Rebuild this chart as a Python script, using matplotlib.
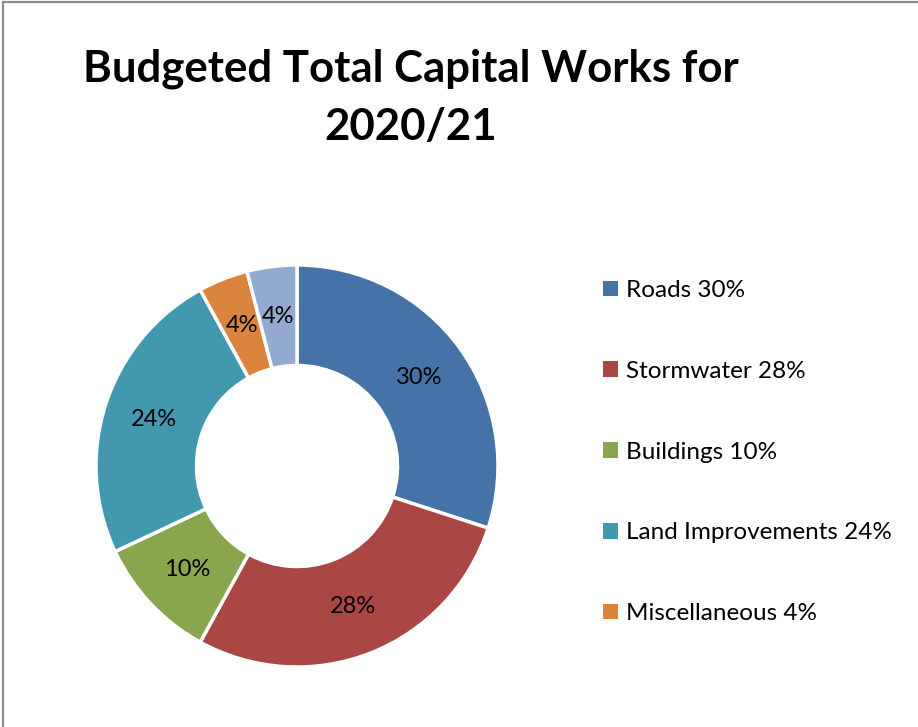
import matplotlib
matplotlib.use("Agg")
import matplotlib.pyplot as plt
from matplotlib.patches import Patch, Rectangle

plt.rcParams['font.family'] = ['Lato', 'DejaVu Sans']

# capital works budget split (percent)
categories = ["Roads", "Stormwater", "Buildings", "Land Improvements", "Miscellaneous", "Other"]
shares = [30, 28, 10, 24, 4, 4]
colors = ["#4572A7", "#AA4643", "#89A54E", "#4198AF", "#DB843D", "#93A9CF"]
n_legend = 5  # legend box only has room for the first five

W, H = 918, 727
fig = plt.figure(figsize=(W / 100, H / 100), dpi=100)

# chart area border
fig.add_artist(Rectangle((3 / W, -0.1), 1.2, 1.1 - 2 / H, transform=fig.transFigure,
                         fill=False, edgecolor="#8c8c8c", linewidth=1.6))

cx, cy, r = 297, 466, 201
ax = fig.add_axes([(cx - r) / W, (H - cy - r) / H, 2 * r / W, 2 * r / H])
wedges, texts, autotexts = ax.pie(
    shares, colors=colors, startangle=90, counterclock=False,
    autopct="%.0f%%", pctdistance=0.75,
    wedgeprops=dict(width=0.5, edgecolor="white", linewidth=2.5),
    textprops=dict(fontsize=17, color="black"))
ax.set_xlim(-1, 1)
ax.set_ylim(-1, 1)
ax.set_aspect("equal")

fig.text(411 / W, 1 - 98 / H, "Budgeted Total Capital Works for\n2020/21",
         ha="center", va="center", fontsize=31.5, fontweight="bold", linespacing=1.55)

handles = [Patch(facecolor=c, edgecolor="none") for c in colors[:n_legend]]
labels = [f"{n} {v}%" for n, v in zip(categories[:n_legend], shares[:n_legend])]
fig.legend(handles, labels, loc="upper left", bbox_to_anchor=(603 / W, 1 - 280 / H),
           frameon=False, fontsize=17.5, handlelength=0.62, handleheight=0.62,
           handletextpad=0.33, labelspacing=2.46, borderpad=0, borderaxespad=0)

fig.savefig("out.png", dpi=100, facecolor="white")
